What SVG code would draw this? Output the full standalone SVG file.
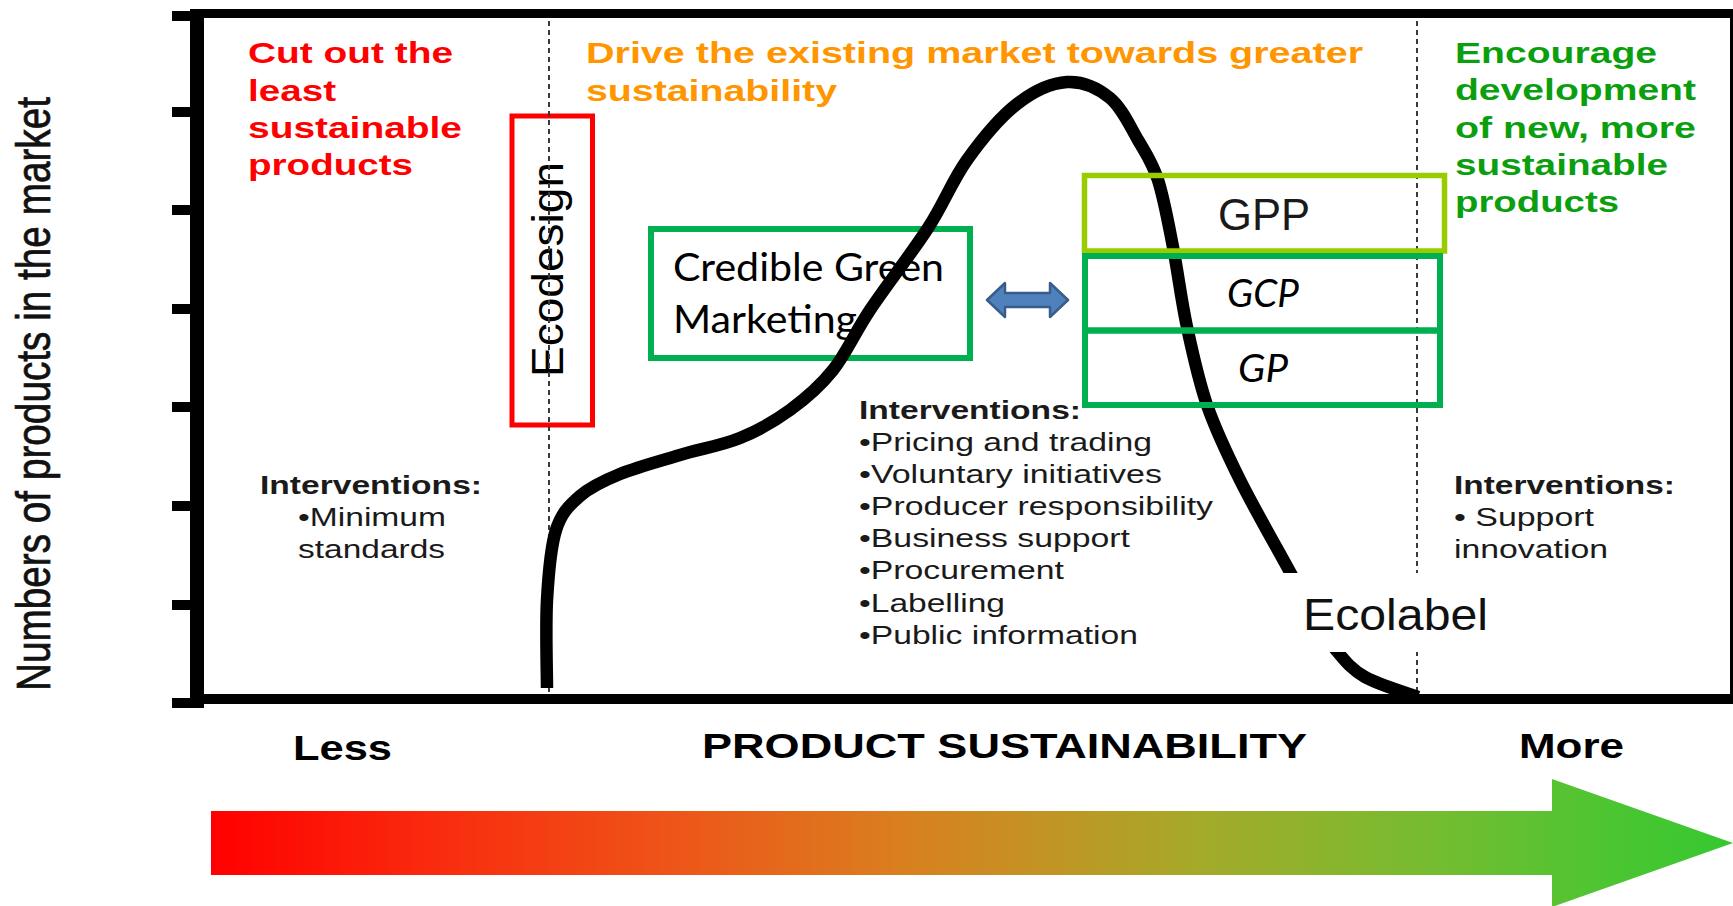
<svg xmlns="http://www.w3.org/2000/svg" width="1733" height="906" viewBox="0 0 1733 906">
  <defs>
    <style>
      .sans { font-family: "Liberation Sans", Arial, sans-serif; }
      .hdr { font-family: "Liberation Sans", Arial, sans-serif; font-weight: bold; font-size: 30px; }
      .ivh { font-family: "Liberation Sans", Arial, sans-serif; font-weight: bold; font-size: 26px; fill: #1a1a1a; }
      .iv { font-family: "Liberation Sans", Arial, sans-serif; font-size: 26px; fill: #1a1a1a; }
      .cal { font-family: Lato, "Open Sans", sans-serif; font-size: 38px; fill: #000; }
      .axt { font-family: "Liberation Sans", Arial, sans-serif; font-weight: bold; font-size: 35px; fill: #000; }
      .red { fill: #FF0000; }
      .orange { fill: #FF9600; }
      .green { fill: #0B9F10; }
      .frame { fill: #000; }
      .divider { stroke: #3a3a3a; stroke-width: 2; stroke-dasharray: 5 4; fill: none; }
      .box-g { fill: none; stroke: #00B050; stroke-width: 6; }
      .box-l { fill: none; stroke: #99CC00; stroke-width: 5.5; }
      .box-r { fill: none; stroke: #FF0000; stroke-width: 5; }
      .curve { fill: none; stroke: #000; stroke-width: 12.5; stroke-linecap: butt; stroke-linejoin: round; }
    </style>
    <linearGradient id="sustainGrad" gradientUnits="userSpaceOnUse" x1="211" y1="0" x2="1733" y2="0">
      <stop offset="0" stop-color="#FF0000"/>
      <stop offset="0.15" stop-color="#F92C0E"/>
      <stop offset="0.3" stop-color="#EE5418"/>
      <stop offset="0.45" stop-color="#DA7E1F"/>
      <stop offset="0.55" stop-color="#C29426"/>
      <stop offset="0.65" stop-color="#A4AA2A"/>
      <stop offset="0.8" stop-color="#76BC30"/>
      <stop offset="0.92" stop-color="#4CC532"/>
      <stop offset="1" stop-color="#35C830"/>
    </linearGradient>
  </defs>

  <rect width="1733" height="906" fill="#ffffff"/>

  <!-- chart frame: axes, ticks and border -->
  <g id="axes" class="frame">
    <rect x="190" y="9" width="1543" height="9"/>
    <rect x="190" y="694" width="1543" height="10"/>
    <rect x="190" y="9" width="14" height="699"/>
    <rect x="1730" y="13" width="3" height="688"/>
    <rect x="172" y="11" width="25" height="10"/>
    <rect x="172" y="107" width="25" height="10"/>
    <rect x="172" y="205" width="25" height="10"/>
    <rect x="172" y="304" width="25" height="10"/>
    <rect x="172" y="402" width="25" height="10"/>
    <rect x="172" y="501" width="25" height="10"/>
    <rect x="172" y="600" width="25" height="10"/>
    <rect x="172" y="698" width="25" height="10"/>
  </g>

  <!-- vertical axis title -->
  <g id="y-label">
    <text class="sans" font-size="40" fill="#111" stroke="#111" stroke-width="0.6" transform="translate(50,691) scale(1.22,1) rotate(-90)" textLength="594" lengthAdjust="spacingAndGlyphs">Numbers of products in the market</text>
  </g>

  <!-- zone headings -->
  <g id="zone-left-title" class="hdr red">
    <text x="248" y="63" textLength="205" lengthAdjust="spacingAndGlyphs">Cut out the</text>
    <text x="248" y="101" textLength="88" lengthAdjust="spacingAndGlyphs">least</text>
    <text x="248" y="138" textLength="214" lengthAdjust="spacingAndGlyphs">sustainable</text>
    <text x="248" y="175" textLength="165" lengthAdjust="spacingAndGlyphs">products</text>
  </g>
  <g id="zone-mid-title" class="hdr orange">
    <text x="586" y="63" textLength="777" lengthAdjust="spacingAndGlyphs">Drive the existing market towards greater</text>
    <text x="586" y="101" textLength="251" lengthAdjust="spacingAndGlyphs">sustainability</text>
  </g>
  <g id="zone-right-title" class="hdr green">
    <text x="1455" y="63" textLength="202" lengthAdjust="spacingAndGlyphs">Encourage</text>
    <text x="1455" y="100" textLength="241" lengthAdjust="spacingAndGlyphs">development</text>
    <text x="1455" y="138" textLength="241" lengthAdjust="spacingAndGlyphs">of new, more</text>
    <text x="1455" y="175" textLength="213" lengthAdjust="spacingAndGlyphs">sustainable</text>
    <text x="1455" y="212" textLength="164" lengthAdjust="spacingAndGlyphs">products</text>
  </g>

  <!-- Ecodesign node -->
  <g id="node-ecodesign">
    <rect class="box-r" x="512" y="116" width="80.5" height="309"/>
    <text class="sans" font-size="44" fill="#000" transform="translate(563,377) rotate(-90)" textLength="215" lengthAdjust="spacingAndGlyphs">Ecodesign</text>
  </g>

  <!-- dotted zone dividers -->
  <g id="dividers">
    <line class="divider" x1="549" y1="21" x2="549" y2="695"/>
    <line class="divider" x1="1417" y1="21" x2="1417" y2="695"/>
  </g>

  <!-- Credible Green Marketing node -->
  <g id="node-credible">
    <rect class="box-g" x="651" y="229" width="319" height="129"/>
    <text class="cal" x="673" y="281" textLength="271" lengthAdjust="spacingAndGlyphs">Credible Green</text>
    <text class="cal" x="673" y="333" textLength="184" lengthAdjust="spacingAndGlyphs">Marketing</text>
  </g>

  <!-- product distribution curve -->
  <g id="distribution">
    <path class="curve" d="M547,688 C547,673.3 545.5,626.3 547,600 C548.5,573.7 550.5,547.3 556,530 C561.5,512.7 569.3,505.3 580,496 C590.7,486.7 603.3,480.8 620,474 C636.7,467.2 660,461 680,455 C700,449 721.7,445.5 740,438 C758.3,430.5 774.5,421.3 790,410 C805.5,398.7 819.7,386.7 833,370 C846.3,353.3 854.2,333.7 870,310 C885.8,286.3 911.8,253 928,228 C944.2,203 952.2,180.7 967,160 C981.8,139.3 1000.3,117 1017,104 C1033.7,91 1051.5,83 1067,82 C1082.5,81 1098.2,88.3 1110,98 C1121.8,107.7 1130,126.3 1138,140 C1146,153.7 1152.2,162.2 1158,180 C1163.8,197.8 1168.2,222.5 1173,247 C1177.8,271.5 1181.3,300.7 1187,327 C1192.7,353.3 1198.2,379.5 1207,405 C1215.8,430.5 1226.2,452.2 1240,480 C1253.8,507.8 1278,549.8 1290,572 C1302,594.2 1304.3,600 1312,613 C1319.7,626 1327.2,639.3 1336,650 C1344.8,660.7 1351.3,669.2 1365,677 C1378.7,684.8 1409.2,693.7 1418,697"/>
  </g>

  <!-- GPP / GCP / GP nodes -->
  <g id="node-gpp">
    <rect class="box-l" x="1084.5" y="175.5" width="360" height="75.5"/>
    <text class="sans" x="1218" y="230" font-size="44" fill="#1a1a1a" textLength="92" lengthAdjust="spacingAndGlyphs">GPP</text>
  </g>
  <g id="node-gcp">
    <rect class="box-g" x="1085" y="256" width="355" height="74.5"/>
    <text class="cal" x="1227" y="307" font-style="italic" textLength="72" lengthAdjust="spacingAndGlyphs">GCP</text>
  </g>
  <g id="node-gp">
    <rect class="box-g" x="1085" y="330.5" width="355" height="74.5"/>
    <text class="cal" x="1238" y="382" font-style="italic" textLength="50" lengthAdjust="spacingAndGlyphs">GP</text>
  </g>

  <!-- interventions per zone -->
  <g id="interventions-left">
    <text class="ivh" x="260" y="494" textLength="222" lengthAdjust="spacingAndGlyphs">Interventions:</text>
    <text class="iv" x="298" y="526" textLength="148" lengthAdjust="spacingAndGlyphs">•Minimum</text>
    <text class="iv" x="298" y="558" textLength="147" lengthAdjust="spacingAndGlyphs">standards</text>
  </g>
  <g id="interventions-mid">
    <text class="ivh" x="859" y="419" textLength="222" lengthAdjust="spacingAndGlyphs">Interventions:</text>
    <text class="iv" x="859" y="451" textLength="293" lengthAdjust="spacingAndGlyphs">•Pricing and trading</text>
    <text class="iv" x="859" y="483" textLength="303" lengthAdjust="spacingAndGlyphs">•Voluntary initiatives</text>
    <text class="iv" x="859" y="515" textLength="354" lengthAdjust="spacingAndGlyphs">•Producer responsibility</text>
    <text class="iv" x="859" y="547" textLength="271" lengthAdjust="spacingAndGlyphs">•Business support</text>
    <text class="iv" x="859" y="579" textLength="205" lengthAdjust="spacingAndGlyphs">•Procurement</text>
    <text class="iv" x="859" y="612" textLength="146" lengthAdjust="spacingAndGlyphs">•Labelling</text>
    <text class="iv" x="859" y="644" textLength="279" lengthAdjust="spacingAndGlyphs">•Public information</text>
  </g>
  <g id="interventions-right">
    <text class="ivh" x="1454" y="494" textLength="221" lengthAdjust="spacingAndGlyphs">Interventions:</text>
    <text class="iv" x="1454" y="526" textLength="140" lengthAdjust="spacingAndGlyphs">• Support</text>
    <text class="iv" x="1454" y="558" textLength="154" lengthAdjust="spacingAndGlyphs">innovation</text>
  </g>

  <!-- Ecolabel node (opaque label over the curve tail) -->
  <g id="node-ecolabel">
    <rect x="1280" y="573" width="215" height="79" fill="#ffffff"/>
    <text class="sans" x="1303" y="630" font-size="45" fill="#111" textLength="185" lengthAdjust="spacingAndGlyphs">Ecolabel</text>
  </g>

  <!-- two-way link between marketing and the policy boxes -->
  <g id="connectors">
    <path d="M987,300 L1005,283 L1005,293 L1050,293 L1050,283 L1068,300 L1050,317 L1050,307 L1005,307 L1005,317 Z" fill="#4F81BD" stroke="#385D8A" stroke-width="2.5" stroke-linejoin="round"/>
  </g>

  <!-- horizontal scale: labels and gradient arrow -->
  <g id="x-scale">
    <text class="axt" x="293" y="760" textLength="99" lengthAdjust="spacingAndGlyphs">Less</text>
    <text class="axt" x="702" y="758" textLength="605" lengthAdjust="spacingAndGlyphs">PRODUCT SUSTAINABILITY</text>
    <text class="axt" x="1519" y="758" textLength="105" lengthAdjust="spacingAndGlyphs">More</text>
    <path d="M211,811 L1552,811 L1552,779 L1733,843 L1552,907 L1552,875 L211,875 Z" fill="url(#sustainGrad)"/>
  </g>
</svg>
